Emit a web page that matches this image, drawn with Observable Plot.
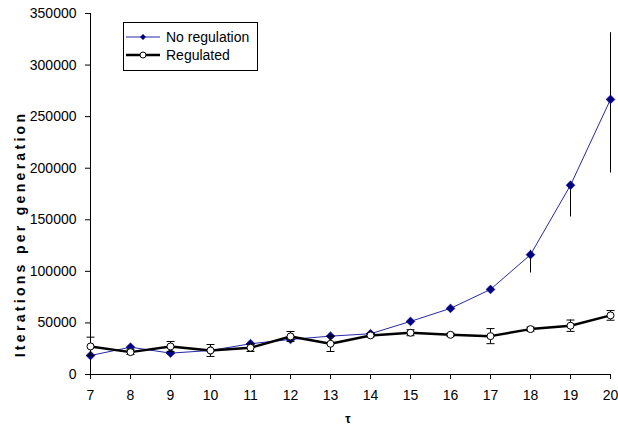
<!DOCTYPE html>
<html>
<head>
<meta charset="utf-8">
<script src="https://cdn.jsdelivr.net/npm/d3@7"></script>
<script src="https://cdn.jsdelivr.net/npm/@observablehq/plot@0.6"></script>
<style>
  html, body { margin: 0; padding: 0; background: white; }
  #chart { width: 618px; height: 431px; }
</style>
</head>
<body>
<div id="chart"></div>
<script>
const tau = [7, 8, 9, 10, 11, 12, 13, 14, 15, 16, 17, 18, 19, 20];
const noRegulation = [18400, 26500, 20700, 23300, 29800, 34000, 37200, 39500, 51500, 64100, 82500, 116200, 183500, 266700];
const noRegLow  = [null, null, null, null, null, null, null, null, null, null, null, 98400, 152700, 195400];
const noRegHigh = [null, null, null, null, null, null, null, null, null, null, null, 120400, 183500, 331400];
const regulated = [27200, 21700, 27200, 23300, 25900, 36900, 29800, 37900, 40500, 38500, 37200, 44000, 47300, 57300];
const regulatedErr = [9000, 2300, 4800, 5800, 3600, 4800, 7500, 1500, 2900, 1500, 7300, 2000, 5500, 4700];
const xTicks = [7, 8, 9, 10, 11, 12, 13, 14, 15, 16, 17, 18, 19, 20];
const yTicks = [0, 50000, 100000, 150000, 200000, 250000, 300000, 350000];
const seriesNames = ["No regulation", "Regulated"];
const yLabel = "Iterations per generation";
const xLabel = "τ";

const noReg = tau.map((t, i) => ({x: t, y: noRegulation[i], lo: noRegLow[i], hi: noRegHigh[i]}));
const reg = tau.map((t, i) => ({x: t, y: regulated[i], lo: regulated[i] - regulatedErr[i], hi: regulated[i] + regulatedErr[i]}));
const noRegBars = noReg.filter(d => d.lo != null);

const capSymbol = {
  draw(context, size) {
    const h = Math.sqrt(size / Math.PI);
    context.moveTo(-h, 0);
    context.lineTo(h, 0);
  }
};

const FONT = "'Liberation Sans', Arial, sans-serif";

const plot = Plot.plot({
  width: 618,
  height: 431,
  marginLeft: 90,
  marginRight: 8,
  marginTop: 13,
  marginBottom: 57,
  style: {fontFamily: FONT, fontSize: "14px", color: "black", background: "white"},
  x: {domain: [7, 20]},
  y: {domain: [0, 350000]},
  marks: [
    Plot.axisY({ticks: yTicks, tickSize: 5, tickPadding: 9, tickFormat: d => String(d), label: null, fontSize: 14}),
    Plot.axisX({ticks: xTicks, tickSize: 5, tickPadding: 11, tickFormat: d => String(d), label: null, fontSize: 14}),
    Plot.ruleX([7], {y1: 0, y2: 350000, stroke: "black"}),
    Plot.ruleY([0], {stroke: "black"}),
    Plot.line(noReg, {x: "x", y: "y", stroke: "#2828a8", strokeWidth: 1}),
    Plot.ruleX(noRegBars, {x: "x", y1: "lo", y2: "hi", stroke: "black", strokeWidth: 1}),
    Plot.dot(noReg, {x: "x", y: "y", symbol: "diamond2", r: 4, fill: "#000080", stroke: "#000080", strokeWidth: 0.5}),
    Plot.ruleX(reg, {x: "x", y1: "lo", y2: "hi", stroke: "black", strokeWidth: 1}),
    Plot.dot(reg, {x: "x", y: "lo", symbol: capSymbol, r: 4, stroke: "black", fill: "none", strokeWidth: 1}),
    Plot.dot(reg, {x: "x", y: "hi", symbol: capSymbol, r: 4, stroke: "black", fill: "none", strokeWidth: 1}),
    Plot.line(reg, {x: "x", y: "y", stroke: "black", strokeWidth: 2.5}),
    Plot.dot(reg, {x: "x", y: "y", symbol: "circle", r: 3.5, fill: "white", stroke: "black", strokeWidth: 1})
  ]
});

const svg = d3.select(plot);
// Y label
svg.append("text")
  .attr("transform", "translate(25,234) rotate(-90)")
  .attr("text-anchor", "middle")
  .attr("font-family", FONT)
  .attr("font-size", 14)
  .attr("font-weight", "bold")
  .attr("letter-spacing", "3.3px")
  .attr("fill", "black")
  .text(yLabel);
// X label
svg.append("text")
  .attr("x", 348)
  .attr("y", 423)
  .attr("text-anchor", "middle")
  .attr("font-family", FONT)
  .attr("font-size", 12)
  .attr("font-weight", "bold")
  .attr("fill", "black")
  .text(xLabel);
// Legend
const lg = svg.append("g");
lg.append("rect").attr("x", 123.5).attr("y", 22.5).attr("width", 134).attr("height", 48)
  .attr("fill", "white").attr("stroke", "black").attr("stroke-width", 1);
const rows = [
  {name: seriesNames[0], y: 37, stroke: "#2828a8", sw: 1, sym: "diamond"},
  {name: seriesNames[1], y: 55, stroke: "black", sw: 2.5, sym: "circle"}
];
rows.forEach(r => {
  lg.append("line").attr("x1", 126).attr("x2", 160).attr("y1", r.y).attr("y2", r.y)
    .attr("stroke", r.stroke).attr("stroke-width", r.sw);
  if (r.sym === "diamond") {
    lg.append("path").attr("d", d3.symbol(d3.symbolDiamond2, 22)()).attr("transform", `translate(143,${r.y})`)
      .attr("fill", "#000080");
  } else {
    lg.append("circle").attr("cx", 143).attr("cy", r.y).attr("r", 3).attr("fill", "white").attr("stroke", "black");
  }
  lg.append("text").attr("x", 166).attr("y", r.y + 5)
    .attr("text-anchor", "start")
    .attr("font-family", FONT)
    .attr("font-size", 14).attr("fill", "black").text(r.name);
});

document.getElementById("chart").appendChild(plot);
</script>
</body>
</html>
